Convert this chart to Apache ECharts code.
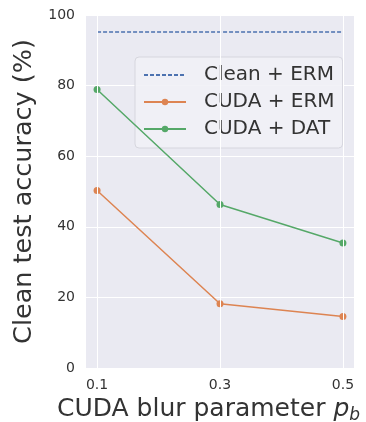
<!DOCTYPE html>
<html><head><meta charset="utf-8">
<script src="https://cdn.jsdelivr.net/npm/echarts@6/dist/echarts.min.js"></script>
<style>html,body{margin:0;padding:0;background:#fff;}#c{width:366px;height:422px;}</style>
</head><body><div id="c"></div>
<script>
const xValues = [0.1, 0.3, 0.5];
const xTicks = [0.1, 0.3, 0.5];
const yTicks = [0, 20, 40, 60, 80, 100];
const cleanERM = [95.2, 95.2, 95.2];
const cudaERM = [50.3, 18.2, 14.6];
const cudaDAT = [78.9, 46.3, 35.4];
const seriesNames = ['Clean + ERM', 'CUDA + ERM', 'CUDA + DAT'];

const font = 'DejaVu Sans';
const pair = arr => xValues.map((x, i) => [x, arr[i]]);

const chart = echarts.init(document.getElementById('c'), null, {renderer: 'canvas'});
chart.setOption({
  animation: false,
  backgroundColor: '#ffffff',
  textStyle: {fontFamily: font},
  grid: {left: 86, right: 12, top: 15, bottom: 54, show: true, backgroundColor: '#eaeaf2', borderWidth: 0,
    containLabel: false, outerBoundsMode: 'none'},
  xAxis: {
    type: 'value', min: 0.082, max: 0.518,
    axisLine: {show: false}, axisTick: {show: false, customValues: xTicks},
    axisLabel: {customValues: xTicks, fontSize: 14, color: '#333333', margin: 10, fontFamily: font,
      formatter: v => String(v)},
    splitLine: {show: false},
    name: '{t|CUDA blur parameter }{p|p}{s|b}', nameLocation: 'middle', nameGap: 25,
    nameTextStyle: {
      fontFamily: font,
      padding: [0, 23, 0, 0],
      rich: {
        t: {fontSize: 25, color: '#333333', fontFamily: font},
        p: {fontSize: 25, color: '#333333', fontStyle: 'italic', fontFamily: font},
        s: {fontSize: 17, color: '#333333', fontStyle: 'italic', fontFamily: font, padding: [12, 0, 0, 0]}
      }
    }
  },
  yAxis: {
    type: 'value', min: 0, max: 100, interval: 20,
    axisLine: {show: false}, axisTick: {show: false},
    axisLabel: {fontSize: 14, color: '#333333', margin: 11, fontFamily: font},
    splitLine: {show: true, lineStyle: {color: '#ffffff', width: 1}},
    name: 'Clean test accuracy (%)', nameLocation: 'middle', nameGap: 40,
    nameTextStyle: {fontSize: 25.5, color: '#333333', fontFamily: font}
  },
  legend: {
    orient: 'vertical', left: 135, top: 57,
    data: [
      {name: seriesNames[0], itemStyle: {opacity: 0}},
      {name: seriesNames[1]},
      {name: seriesNames[2]}
    ],
    itemWidth: 42, itemHeight: 8, itemGap: 7,
    padding: [8, 8, 9, 8],
    backgroundColor: 'rgba(241,241,246,0.9)', borderColor: '#d6d6de', borderWidth: 1, borderRadius: 4,
    textStyle: {fontSize: 20, color: '#333333', fontFamily: font, padding: [0, 0, 0, 13]}
  },
  series: [
    {
      name: seriesNames[0], type: 'line', data: pair(cleanERM),
      showSymbol: false, symbol: 'none',
      lineStyle: {color: '#4c72b0', width: 1.4, type: [4, 2]},
      itemStyle: {color: '#4c72b0'}, z: 3,
      markLine: {
        silent: true, symbol: 'none', label: {show: false},
        lineStyle: {color: '#ffffff', width: 1, type: 'solid'},
        data: xTicks.map(v => ({xAxis: v}))
      }
    },
    {
      name: seriesNames[1], type: 'line', data: pair(cudaERM),
      symbol: 'circle', symbolSize: 7,
      lineStyle: {color: '#dd8452', width: 1.5}, itemStyle: {color: '#dd8452', borderWidth: 0}, z: 4
    },
    {
      name: seriesNames[2], type: 'line', data: pair(cudaDAT),
      symbol: 'circle', symbolSize: 7,
      lineStyle: {color: '#55a868', width: 1.5}, itemStyle: {color: '#55a868', borderWidth: 0}, z: 4
    }
  ]
});
</script></body></html>
